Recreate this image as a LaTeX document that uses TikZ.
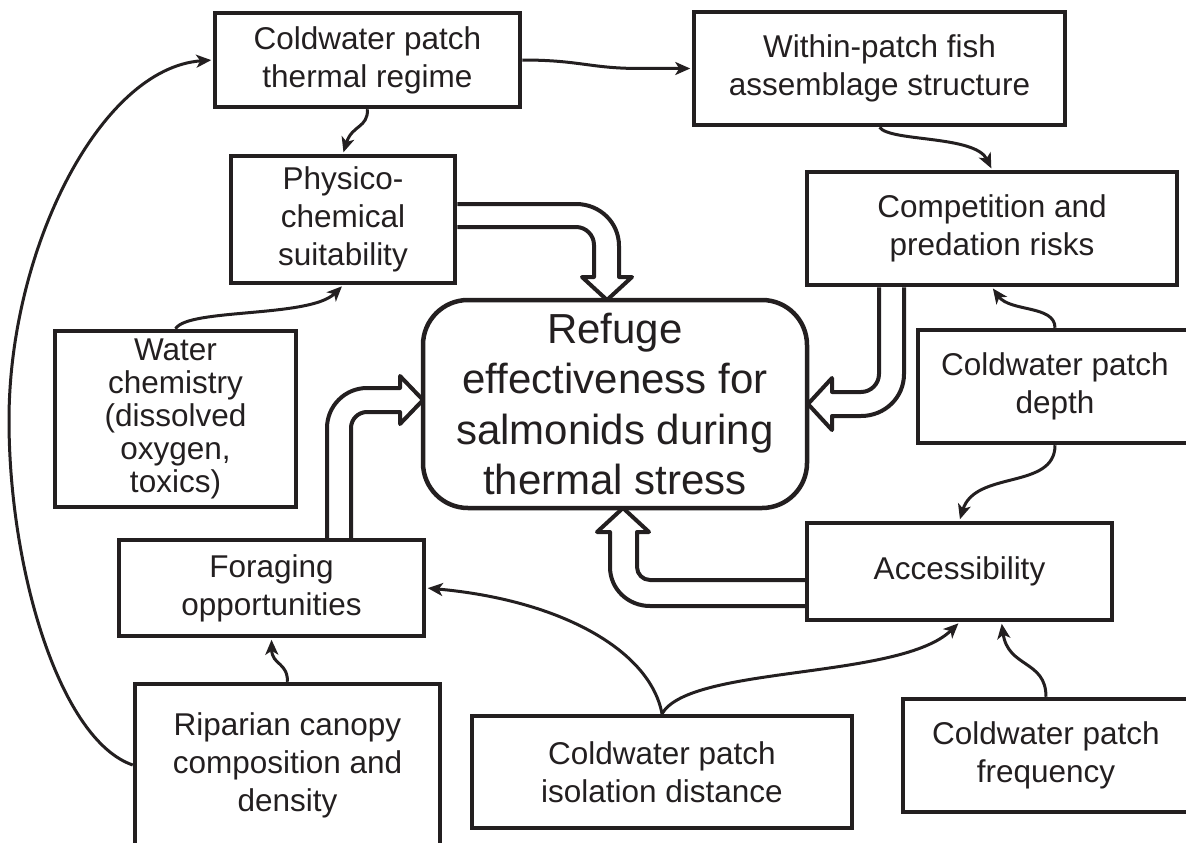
\documentclass[tikz,border=0pt]{standalone}
\usepackage{fontspec}
\setmainfont{Liberation Sans}
\usetikzlibrary{arrows.meta,calc}
\definecolor{ink}{HTML}{231F20}
\begin{document}
\begin{tikzpicture}[x=1pt,y=1pt,
  box/.style={draw=ink, line width=4.5pt, rectangle, inner sep=0pt, align=center, text=ink,
    font=\fontsize{31.5}{38}\selectfont},
  conn/.style={draw=ink, line width=3pt, shorten >=1.5pt, -{Stealth[length=15pt,width=13pt,inset=4pt]}},
  hollow/.style={draw=ink, line width=4pt, line join=round}]
\clip (0,0) rectangle (1186,-843);
% boxes
\node[box, minimum width=305pt, minimum height=94pt] (thermal) at (367.5,-60) {Coldwater patch\\thermal regime};
\node[box, minimum width=371pt, minimum height=113pt] (within) at (879.5,-68.5) {Within-patch fish\\assemblage structure};
\node[box, minimum width=224pt, minimum height=127pt] (physico) at (343,-219.5) {Physico-\\chemical\\suitability};
\node[box, minimum width=370pt, minimum height=113pt] (comp) at (992,-228.5) {Competition and\\predation risks};
\node[box, rounded corners=45pt, minimum width=384pt, minimum height=208pt,
  font=\fontsize{42}{50.5}\selectfont] (refuge) at (615,-404) {Refuge\\effectiveness for\\salmonids during\\thermal stress};
\node[box, minimum width=241pt, minimum height=176pt, font=\fontsize{31.5}{33}\selectfont] (water) at (175.5,-419) {Water\\chemistry\\(dissolved\\oxygen,\\toxics)};
\node[box, minimum width=274pt, minimum height=113pt] (depth) at (1055,-386.5) {Coldwater patch\\depth};
\node[box, minimum width=305pt, minimum height=96pt] (forage) at (271.5,-588) {Foraging\\opportunities};
\node[box, minimum width=305pt, minimum height=97pt] (access) at (959.5,-571.5) {Accessibility};
\node[box, minimum width=305pt, minimum height=162pt] (rip) at (287.5,-765) {Riparian canopy\\composition and\\density};
\node[box, minimum width=380pt, minimum height=112pt] (iso) at (662,-772) {Coldwater patch\\isolation distance};
\node[box, minimum width=286pt, minimum height=113pt] (freq) at (1046,-755.5) {Coldwater patch\\frequency};
% hollow arrows
\draw[hollow] ($(physico.east)+(0,15.5)$) -- (576,-204) .. controls (599.7,-204) and (619,-222.3) .. (619,-246)
  -- (619,-277) -- (632,-277) -- (607,-300) -- (582,-277) -- (594,-277) -- (594,-245)
  .. controls (594,-235.1) and (585.9,-227) .. (576,-227) -- ($(physico.east)+(0,-7.5)$);
\draw[hollow] ($(comp.south)+(-113,0)$) -- (879,-374) .. controls (879,-383.9) and (870.9,-392) .. (861,-392)
  -- (832,-392) -- (832,-378) -- (808,-404) -- (832,-430) -- (832,-416) -- (861,-416)
  .. controls (884.7,-416) and (904,-397.7) .. (904,-374) -- ($(comp.south)+(-88,0)$);
\draw[hollow] ($(access.west)+(0,-8.5)$) -- (650,-580) .. controls (642.8,-580) and (637,-574.2) .. (637,-567)
  -- (637,-532) -- (649,-532) -- (623,-508) -- (597,-532) -- (610,-532) -- (610,-567)
  .. controls (610,-589) and (628,-606) .. (650,-606) -- ($(access.west)+(0,-34.5)$);
\draw[hollow] ($(forage.north)+(55.5,0)$) -- (327,-428) .. controls (327,-406) and (345,-388) .. (367,-388)
  -- (400,-388) -- (400,-376) -- (423,-400) -- (400,-424) -- (400,-412) -- (367,-412)
  .. controls (358.2,-412) and (351,-419.2) .. (351,-428) -- ($(forage.north)+(79.5,0)$);
% thin connectors
\draw[conn] (thermal.east) .. controls (580,-60) and (590,-68.5) .. (640,-68.5) -- (within.west);
\draw[conn] (thermal.south) .. controls (368,-128) and (352,-125) .. (physico.north);
\draw[conn] (within.south) .. controls (890,-142) and (975,-135) .. (comp.north);
\draw[conn] (water.north) .. controls (188,-308) and (310,-318) .. (physico.south);
\draw[conn] (depth.north) .. controls (1055,-305) and (1010,-312) .. (comp.south);
\draw[conn] (depth.south) .. controls (1055,-490) and (975,-470) .. (access.north);
\draw[conn] (rip.north) .. controls (287.5,-662) and (272,-665) .. (forage.south);
\coordinate (loopL) at (9,-420);
\draw[conn] (rip.west) .. controls (60,-740) and (9,-570) .. (loopL) .. controls (9,-250) and (100,-68) .. (thermal.west);
\draw[conn] (iso.north) .. controls (650,-650) and (560,-600) .. (forage.east);
\draw[conn] (iso.north) .. controls (690,-665) and (900,-680) .. (access.south);
\draw[conn] (freq.north) .. controls (1046,-660) and (1008,-668) .. ([xshift=42pt]access.south);
\end{tikzpicture}
\end{document}
